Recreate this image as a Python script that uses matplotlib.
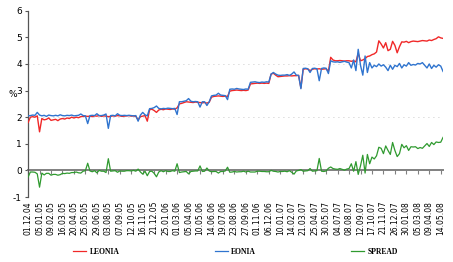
import numpy as np
import matplotlib.pyplot as plt
from matplotlib.lines import Line2D

plt.rcParams['axes.unicode_minus'] = False

# weekly observations, 01.12.04 .. 18.05.08
leonia = [
    1.80, 2.00, 2.02, 2.00, 2.05, 1.45, 1.95, 1.90, 1.92, 1.97,
    1.88, 1.90, 1.92, 1.87, 1.93, 1.95, 1.93, 1.97, 1.95, 2.00,
    1.97, 2.00, 1.98, 2.02, 2.03, 2.04, 2.03, 2.04, 2.02, 2.05,
    2.04, 2.06, 2.03, 2.05, 2.04, 2.02, 2.03, 2.05, 2.04, 2.06,
    2.05, 2.03, 2.04, 2.05, 2.06, 2.04, 2.05, 2.03, 1.90, 2.02,
    2.04, 2.06, 1.85, 2.28, 2.30, 2.25, 2.18, 2.27, 2.30, 2.28,
    2.31, 2.30, 2.29, 2.31, 2.30, 2.35, 2.50, 2.52, 2.55, 2.58,
    2.57, 2.56, 2.55, 2.57, 2.56, 2.55, 2.54, 2.55, 2.53, 2.56,
    2.75, 2.78, 2.79, 2.80, 2.79, 2.78, 2.79, 2.78, 2.98, 3.00,
    3.01, 3.02, 3.01, 3.00, 3.01, 3.00, 3.02, 3.25, 3.26, 3.27,
    3.28, 3.27, 3.28, 3.27, 3.28, 3.27, 3.62, 3.65, 3.58, 3.52,
    3.53, 3.54, 3.55, 3.55, 3.56, 3.55, 3.56, 3.56, 3.57, 3.10,
    3.80, 3.82, 3.81, 3.75, 3.80, 3.82, 3.81, 3.82, 3.80, 3.81,
    3.82, 3.72, 4.25, 4.15, 4.12, 4.12, 4.13, 4.12, 4.11, 4.12,
    4.12, 4.10, 4.12, 4.08, 4.40, 4.12, 4.15, 4.20, 4.28, 4.30,
    4.35, 4.38, 4.45, 4.87, 4.75, 4.60, 4.80, 4.50, 4.55, 4.85,
    4.70, 4.42, 4.65, 4.83, 4.82, 4.85, 4.80, 4.84, 4.86, 4.85,
    4.84, 4.86, 4.88, 4.87, 4.86, 4.90, 4.88, 4.92, 4.95, 5.02,
    4.98, 4.96,
]
eonia = [
    2.05, 2.06, 2.08, 2.07, 2.18, 2.08, 2.05, 2.07, 2.03, 2.08,
    2.06, 2.05, 2.07, 2.05, 2.09, 2.06, 2.05, 2.07, 2.06, 2.08,
    2.05, 2.06, 2.07, 2.12, 2.06, 2.05, 1.76, 2.06, 2.07, 2.06,
    2.13, 2.06, 2.06, 2.08, 2.12, 1.58, 2.06, 2.07, 2.05, 2.13,
    2.07, 2.06, 2.07, 2.06, 2.07, 2.06, 2.05, 2.06, 1.85, 2.08,
    2.18, 2.09, 2.05, 2.32, 2.33, 2.36, 2.42, 2.33, 2.31, 2.33,
    2.32, 2.34, 2.33, 2.32, 2.33, 2.10, 2.58, 2.58, 2.60, 2.62,
    2.70, 2.60, 2.58, 2.59, 2.58, 2.38, 2.58, 2.58, 2.44, 2.58,
    2.80, 2.82, 2.83, 2.90, 2.83, 2.82, 2.81, 2.66, 3.05, 3.06,
    3.05, 3.08, 3.06, 3.05, 3.04, 3.06, 3.05, 3.31, 3.32, 3.33,
    3.31, 3.30, 3.32, 3.31, 3.33, 3.32, 3.62, 3.68, 3.62, 3.58,
    3.57, 3.58, 3.58, 3.60, 3.57, 3.62, 3.70, 3.58, 3.57, 3.07,
    3.83, 3.84, 3.82, 3.68, 3.83, 3.84, 3.82, 3.37, 3.83, 3.85,
    3.84, 3.64, 4.12, 4.08, 4.07, 4.08, 4.06, 4.08, 4.10, 4.07,
    4.05, 3.85, 4.15, 3.75, 4.55, 3.95, 3.58, 4.30, 3.68, 4.05,
    3.85, 3.95, 3.90, 4.00, 3.92, 3.97, 3.88, 3.75, 3.95, 3.80,
    3.95, 3.90, 4.02, 3.85, 3.97, 3.92, 4.05, 3.95, 3.98, 3.96,
    4.02, 4.00, 4.05, 3.95, 3.85, 4.00, 3.83, 3.95, 3.88, 3.97,
    3.92, 3.72,
]
spread = list(np.round(np.array(leonia) - np.array(eonia), 2))

date_labels = [
    "01.12.04", "05.01.05", "09.02.05", "16.03.05", "20.04.05", "25.05.05",
    "29.06.05", "03.08.05", "07.09.05", "12.10.05", "16.11.05", "21.12.05",
    "25.01.06", "01.03.06", "05.04.06", "10.05.06", "14.06.06", "19.07.06",
    "23.08.06", "27.09.06", "01.11.06", "06.12.06", "10.01.07", "14.02.07",
    "21.03.07", "25.04.07", "30.05.07", "04.07.07", "08.08.07", "12.09.07",
    "17.10.07", "21.11.07", "26.12.07", "30.01.08", "05.03.08", "09.04.08",
    "14.05.08",
]


def main():
    fig = plt.figure(figsize=(4.53, 2.62), dpi=100)
    ax = fig.add_axes([0.062, 0.248, 0.916, 0.711])

    # spine first, moving it resets the tick labels
    ax.spines["bottom"].set_position(("data", 0))
    ax.spines["bottom"].set_color("#808080")
    ax.spines["bottom"].set_linewidth(1.4)
    ax.spines["bottom"].set_zorder(2)
    ax.spines["left"].set_color("#555555")
    ax.spines["left"].set_linewidth(0.9)
    ax.spines["top"].set_visible(False)
    ax.spines["right"].set_visible(False)

    x = np.arange(len(eonia))
    ax.axhline(2, color="#b8b8b8", lw=0.6, ls=(0, (1, 5)), zorder=0)
    ax.axhline(4, color="#b8b8b8", lw=0.6, ls=(0, (1, 5)), zorder=0)

    ax.plot(x, leonia, color="#f02828", lw=1.0, zorder=3)
    ax.plot(x, eonia, color="#2f74cf", lw=1.0, zorder=4)
    ax.plot(x, spread, color="#2f9a2f", lw=0.9, zorder=5)

    ax.set_xlim(0, 181)
    ax.set_ylim(-1, 6)
    ax.set_yticks(range(-1, 7))
    ax.tick_params(axis="y", labelsize=6.5, length=2.5, color="#555555", pad=2)

    ax.set_xticks(np.arange(0, 181, 5))
    ax.set_xticklabels(date_labels, rotation=90, fontsize=5.5)
    ax.tick_params(axis="x", length=3, color="#808080", width=0.8, pad=19)

    fig.text(0.018, 0.64, "%", fontsize=6.5, va="center")

    handles = [Line2D([], [], color="#f02828", lw=0.9),
               Line2D([], [], color="#2f74cf", lw=0.9),
               Line2D([], [], color="#2f9a2f", lw=0.9)]
    fig.legend(handles, ["LEONIA", "EONIA", "SPREAD"], loc="center",
               bbox_to_anchor=(0.52, 0.038), ncol=3, frameon=False,
               handlelength=1.7, handletextpad=0.4, columnspacing=12.5,
               prop={"family": "Liberation Serif", "weight": "bold", "size": 5.5})

    fig.savefig("out.png", dpi=100)


if __name__ == '__main__':
    main()
